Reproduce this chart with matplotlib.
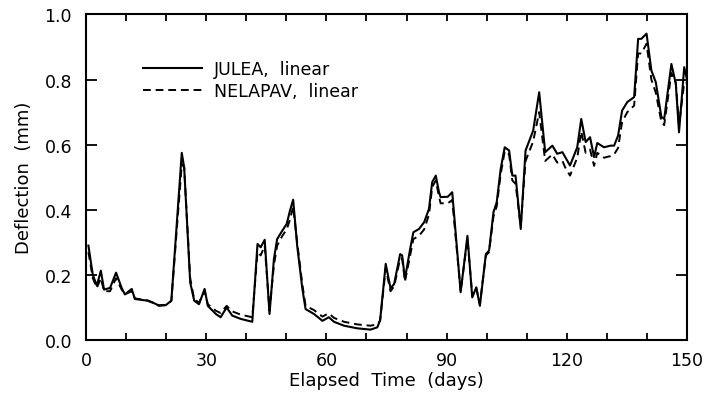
import matplotlib
matplotlib.use("Agg")
import matplotlib.pyplot as plt

# Elapsed time (days) of each reading
days = [0.6, 1.7, 2.7, 3.7, 4.5, 6.0, 7.5, 8.9, 9.7, 11.4, 12.2, 15.3, 17.4, 18.2,
        19.9, 21.3, 23.9, 24.5, 26.0, 27.0, 28.2, 29.6, 30.4, 32.4, 33.6, 35.1,
        36.5, 38.6, 41.5, 42.8, 43.6, 44.6, 45.8, 46.9, 47.7, 49.0, 50.1, 50.9,
        51.7, 52.7, 54.0, 54.8, 56.9, 59.0, 60.6, 61.9, 64.4, 67.7, 71.0, 72.7,
        73.4, 74.8, 76.0, 76.9, 78.4, 78.9, 79.6, 80.9, 81.7, 83.1, 84.4, 85.6,
        86.4, 87.3, 88.1, 88.5, 90.3, 91.4, 93.5, 95.2, 96.4, 97.4, 98.3, 99.8,
        100.6, 101.7, 102.5, 103.5, 104.5, 105.6, 106.4, 107.2, 108.5, 109.7,
        111.6, 113.1, 114.6, 116.4, 117.6, 118.9, 119.6, 120.8, 122.6, 123.6,
        124.7, 125.8, 126.8, 127.6, 129.3, 130.9, 131.8, 132.8, 133.8, 135.1,
        136.8, 137.8, 138.6, 139.9, 141.1, 142.2, 143.6, 144.3, 146.1, 147.2,
        148.0, 149.3, 150.0]

# Deflection (mm), JULEA linear
julea = [0.29, 0.20, 0.167, 0.213, 0.155, 0.16, 0.207, 0.16, 0.14, 0.157, 0.126,
         0.121, 0.111, 0.105, 0.107, 0.121, 0.575, 0.53, 0.177, 0.121, 0.11, 0.157,
         0.105, 0.08, 0.07, 0.10, 0.075, 0.065, 0.056, 0.295, 0.285, 0.308, 0.08,
         0.249, 0.31, 0.336, 0.357, 0.397, 0.431, 0.29, 0.157, 0.095, 0.08, 0.059,
         0.07, 0.056, 0.044, 0.036, 0.032, 0.039, 0.06, 0.234, 0.159, 0.172, 0.264,
         0.26, 0.188, 0.28, 0.331, 0.341, 0.362, 0.403, 0.485, 0.505, 0.454, 0.439,
         0.44, 0.454, 0.147, 0.32, 0.131, 0.162, 0.105, 0.264, 0.275, 0.393, 0.423,
         0.526, 0.592, 0.582, 0.505, 0.505, 0.341, 0.582, 0.643, 0.761, 0.577,
         0.597, 0.572, 0.577, 0.562, 0.536, 0.592, 0.679, 0.608, 0.623, 0.562,
         0.605, 0.592, 0.597, 0.597, 0.628, 0.705, 0.731, 0.746, 0.925, 0.925,
         0.941, 0.828, 0.792, 0.685, 0.679, 0.848, 0.787, 0.638, 0.838, 0.80]

# Deflection (mm), NELAPAV linear
nelapav = [0.27, 0.19, 0.16, 0.19, 0.15, 0.15, 0.19, 0.155, 0.14, 0.15, 0.128,
           0.122, 0.112, 0.107, 0.108, 0.12, 0.54, 0.53, 0.19, 0.125, 0.115, 0.15,
           0.11, 0.09, 0.083, 0.105, 0.088, 0.078, 0.07, 0.27, 0.26, 0.29, 0.09,
           0.23, 0.29, 0.32, 0.34, 0.37, 0.41, 0.30, 0.17, 0.105, 0.092, 0.072,
           0.082, 0.068, 0.056, 0.048, 0.044, 0.048, 0.06, 0.22, 0.15, 0.165, 0.25,
           0.25, 0.18, 0.26, 0.31, 0.32, 0.34, 0.385, 0.47, 0.49, 0.44, 0.42,
           0.42, 0.43, 0.15, 0.31, 0.135, 0.16, 0.11, 0.26, 0.27, 0.38, 0.41,
           0.51, 0.58, 0.57, 0.49, 0.48, 0.35, 0.55, 0.61, 0.70, 0.55,
           0.57, 0.545, 0.55, 0.53, 0.505, 0.56, 0.64, 0.575, 0.585, 0.535,
           0.575, 0.56, 0.565, 0.57, 0.59, 0.67, 0.70, 0.72, 0.88, 0.88,
           0.91, 0.80, 0.76, 0.67, 0.66, 0.82, 0.79, 0.66, 0.79, 0.79]

x_ticks = list(range(0, 151, 10))
x_labels = [str(t) if t % 30 == 0 else "" for t in x_ticks]
y_ticks = [0.0, 0.2, 0.4, 0.6, 0.8, 1.0]

plt.rcParams['font.family'] = ['DejaVu Sans']

fig = plt.figure(figsize=(7.05, 4.06), dpi=100)
ax = fig.add_axes([0.122, 0.160, 0.8525, 0.802])

ax.plot(days, julea, color='black', lw=1.5, label='JULEA,  linear')
ax.plot(days, nelapav, color='black', lw=1.4, dashes=(4, 2.5), label='NELAPAV,  linear')

ax.set_xlim(0, 150)
ax.set_ylim(0, 1.0)
ax.set_xticks(x_ticks)
ax.set_xticklabels(x_labels)
ax.set_yticks(y_ticks)
ax.set_yticklabels([f"{v:.1f}" for v in y_ticks])

ax.tick_params(axis='x', direction='in', length=5, width=1.3, top=True,
               labelsize=12.5, pad=8)
ax.tick_params(axis='y', direction='in', length=8, width=1.3, right=True,
               labelsize=12.5, pad=10)
for s in ax.spines.values():
    s.set_linewidth(1.5)

ax.set_xlabel('Elapsed  Time  (days)', fontsize=13, labelpad=1)
ax.set_ylabel('Deflection  (mm)', fontsize=13, labelpad=8)

ax.legend(loc='upper left', bbox_to_anchor=(0.095, 0.86), frameon=False,
          fontsize=12.5, handlelength=3.4, handletextpad=0.7, labelspacing=0.25,
          borderpad=0, borderaxespad=0)

fig.savefig('out.png', dpi=100)
